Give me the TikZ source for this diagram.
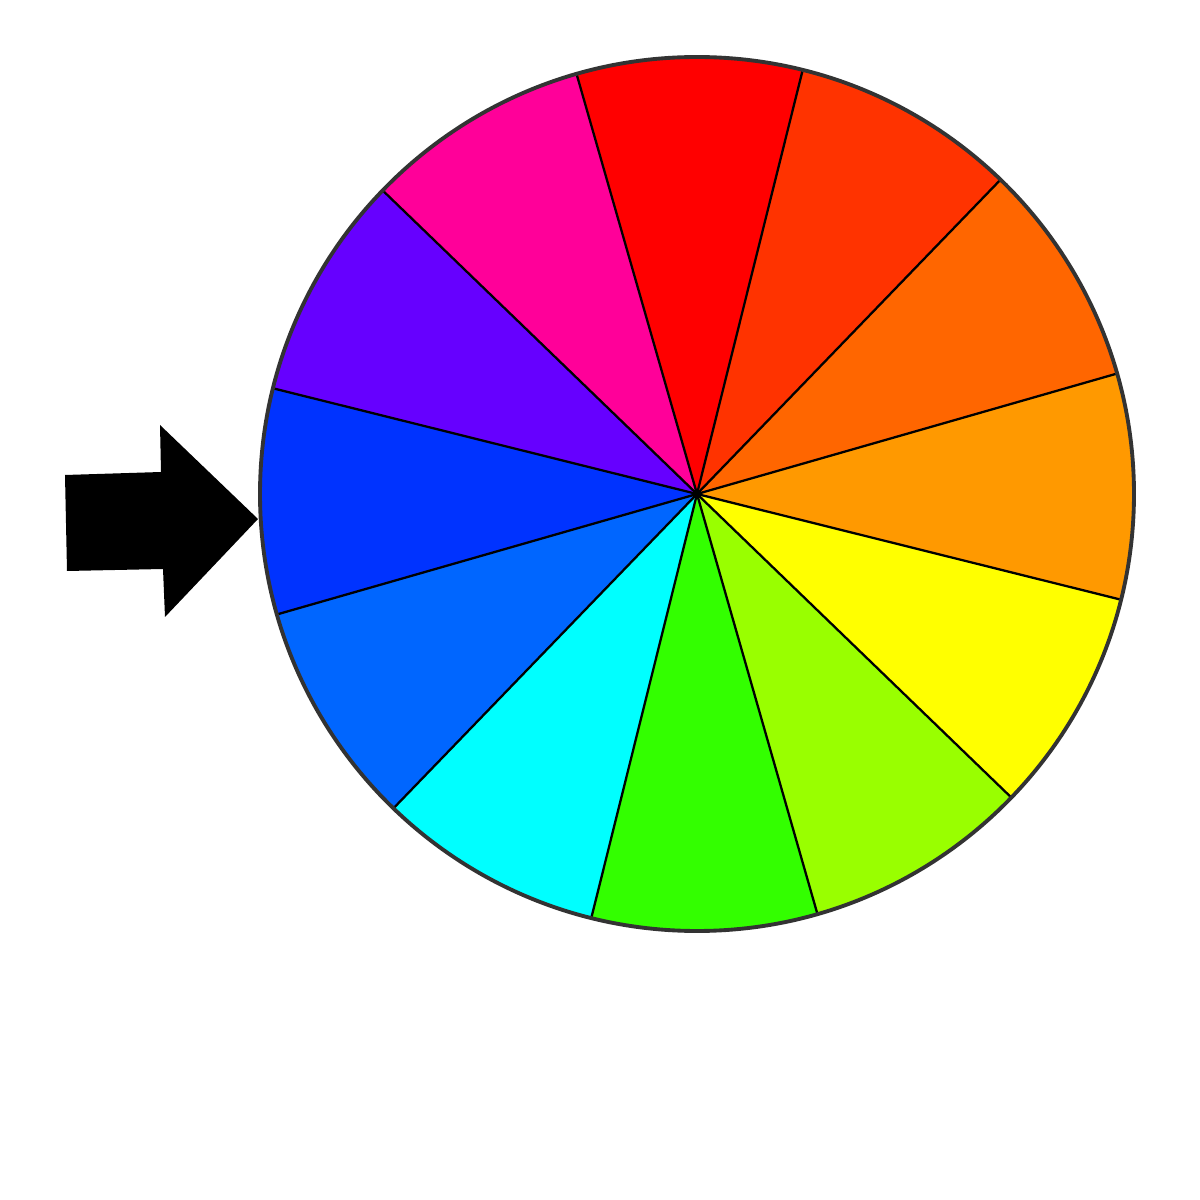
\documentclass[tikz,border=0pt]{standalone}
\usepackage{tikz}
\definecolor{wheelrim}{HTML}{333333}
\definecolor{segA}{HTML}{FF9900}
\definecolor{segB}{HTML}{FF6600}
\definecolor{segC}{HTML}{FF3300}
\definecolor{segD}{HTML}{FF0000}
\definecolor{segE}{HTML}{FF0099}
\definecolor{segF}{HTML}{6600FF}
\definecolor{segG}{HTML}{0033FF}
\definecolor{segH}{HTML}{0066FF}
\definecolor{segI}{HTML}{00FFFF}
\definecolor{segJ}{HTML}{33FF00}
\definecolor{segK}{HTML}{99FF00}
\definecolor{segL}{HTML}{FFFF00}
\begin{document}
\begin{tikzpicture}
    \useasboundingbox (0,0) rectangle (12,12);
    \coordinate (hub) at (6.97,7.06);
    \foreach \ang/\col in {1/segA,31/segB,61/segC,91/segD,121/segE,151/segF,181/segG,211/segH,241/segI,271/segJ,301/segK,331/segL}{
      \fill[\col] (hub) -- ++(\ang-15:4.37) arc[start angle=\ang-15,end angle=\ang+15,radius=4.37] -- cycle;
    }
    \foreach \ang in {16,46,...,346}{
      \draw[black,line width=0.65pt] (hub) -- ++(\ang:4.37);
    }
    \draw[draw=wheelrim,line width=1.1pt] (hub) circle[radius=4.37];
    % pointer
    \fill[black] (0.65,7.25) -- (1.61,7.28) -- (1.60,7.75) -- (2.58,6.81)
      -- (1.65,5.83) -- (1.63,6.31) -- (0.67,6.29) -- cycle;
  \end{tikzpicture}
\end{document}
